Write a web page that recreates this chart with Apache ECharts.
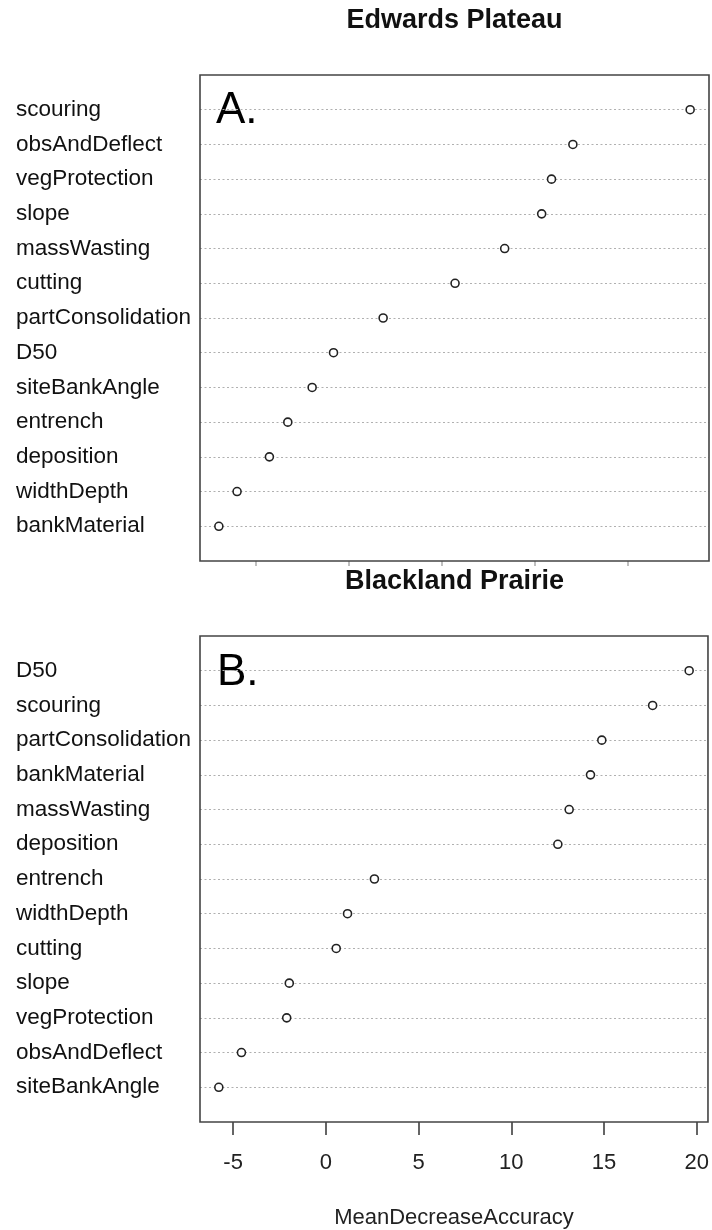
<!DOCTYPE html>
<html>
<head>
<meta charset="utf-8">
<title>Variable importance – Edwards Plateau / Blackland Prairie</title>
<script src="https://cdn.jsdelivr.net/npm/echarts@6/dist/echarts.min.js"></script>
<style>
  html, body { margin: 0; padding: 0; background: #fff; }
  #chart { width: 712px; height: 1230px; }
</style>
</head>
<body>
<div id="chart"></div>
<script>
// Variable names, listed top to bottom as they appear in each dot chart
const edwardsVars = ['scouring', 'obsAndDeflect', 'vegProtection', 'slope', 'massWasting',
  'cutting', 'partConsolidation', 'D50', 'siteBankAngle', 'entrench', 'deposition',
  'widthDepth', 'bankMaterial'];
const edwardsValues = [18.37, 12.06, 10.91, 10.38, 8.39, 5.72, 1.85, -0.82, -1.97, -3.28,
  -4.27, -6.01, -6.99];

const blacklandVars = ['D50', 'scouring', 'partConsolidation', 'bankMaterial', 'massWasting',
  'deposition', 'entrench', 'widthDepth', 'cutting', 'slope', 'vegProtection',
  'obsAndDeflect', 'siteBankAngle'];
const blacklandValues = [19.59, 17.62, 14.88, 14.27, 13.12, 12.51, 2.62, 1.17, 0.56, -1.97,
  -2.11, -4.55, -5.77];

// x tick positions (MeanDecreaseAccuracy)
const edwardsTicks = [-5, 0, 5, 10, 15];
const blacklandTicks = [-5, 0, 5, 10, 15, 20];

const FONT = '"Liberation Sans", Arial, Helvetica, sans-serif';

// x range padded by 4% on each side, like a base-graphics dot chart
function paddedRange(vals) {
  const lo = Math.min(...vals), hi = Math.max(...vals);
  const pad = 0.04 * (hi - lo);
  return [lo - pad, hi + pad];
}

// Category rows with an empty slot above and below so the first/last dot sit one row in
function rows(names) { return [''].concat(names, ['']); }

function yAxisFor(gridIndex, names) {
  const last = names.length + 1;
  return {
    type: 'category',
    gridIndex: gridIndex,
    data: rows(names),
    inverse: true,
    boundaryGap: false,
    axisLine: { show: false },
    axisTick: { show: false },
    axisLabel: {
      interval: 0,
      align: 'left',
      margin: 184,
      fontFamily: FONT,
      fontSize: 22.5,
      color: '#111'
    },
    splitLine: {
      show: true,
      // only the real rows get a dotted guide line, not the padding slots on the frame
      interval: (idx) => idx > 0 && idx < last,
      lineStyle: { color: '#b0b0b0', width: 1, type: [2, 2.5] }
    }
  };
}

function series(gridIndex, names, values) {
  return {
    type: 'scatter',
    xAxisIndex: gridIndex,
    yAxisIndex: gridIndex,
    symbol: 'circle',
    symbolSize: 8,
    itemStyle: { color: '#fff', borderColor: '#222', borderWidth: 1.6, opacity: 1 },
    data: names.map((n, i) => [values[i], n]),
    silent: true
  };
}

const rangeA = paddedRange(edwardsValues);
const rangeB = paddedRange(blacklandValues);

const chart = echarts.init(document.getElementById('chart'), null, { renderer: 'canvas' });

chart.setOption({
  animation: false,
  backgroundColor: '#fff',
  grid: [
    { left: 200, top: 75, width: 509, height: 486, show: true, borderColor: '#444', borderWidth: 1.6, backgroundColor: 'transparent', z: 3 },
    { left: 200, top: 636, width: 509, height: 486, show: true, borderColor: '#444', borderWidth: 1.6, backgroundColor: 'transparent', z: 3 }
  ],
  xAxis: [
    {
      type: 'value',
      gridIndex: 0,
      min: rangeA[0],
      max: rangeA[1],
      axisLine: { show: false },
      splitLine: { show: false },
      axisTick: { show: true, customValues: edwardsTicks, length: 5, lineStyle: { color: '#aaaaaa', width: 1.5 } },
      axisLabel: { show: false, customValues: edwardsTicks }
    },
    {
      type: 'value',
      gridIndex: 1,
      min: rangeB[0],
      max: rangeB[1],
      axisLine: { show: false },
      splitLine: { show: false },
      axisTick: { show: true, customValues: blacklandTicks, length: 13, lineStyle: { color: '#333', width: 1.5 } },
      axisLabel: {
        customValues: blacklandTicks,
        margin: 30,
        fontFamily: FONT,
        fontSize: 22,
        color: '#222'
      },
      name: 'MeanDecreaseAccuracy',
      nameLocation: 'middle',
      nameGap: 85,
      nameTextStyle: { fontFamily: FONT, fontSize: 22, color: '#222' }
    }
  ],
  yAxis: [yAxisFor(0, edwardsVars), yAxisFor(1, blacklandVars)],
  series: [series(0, edwardsVars, edwardsValues), series(1, blacklandVars, blacklandValues)],
  graphic: [
    { type: 'text', x: 454.5, y: 21, style: { text: 'Edwards Plateau', font: 'bold 27px ' + FONT, fill: '#111', align: 'center', verticalAlign: 'middle' } },
    { type: 'text', x: 454.5, y: 582, style: { text: 'Blackland Prairie', font: 'bold 27px ' + FONT, fill: '#111', align: 'center', verticalAlign: 'middle' } },
    { type: 'text', x: 216, y: 111, style: { text: 'A.', font: '44px ' + FONT, fill: '#000', align: 'left', verticalAlign: 'middle' } },
    { type: 'text', x: 217, y: 673, style: { text: 'B.', font: '44px ' + FONT, fill: '#000', align: 'left', verticalAlign: 'middle' } }
  ]
});
</script>
</body>
</html>
